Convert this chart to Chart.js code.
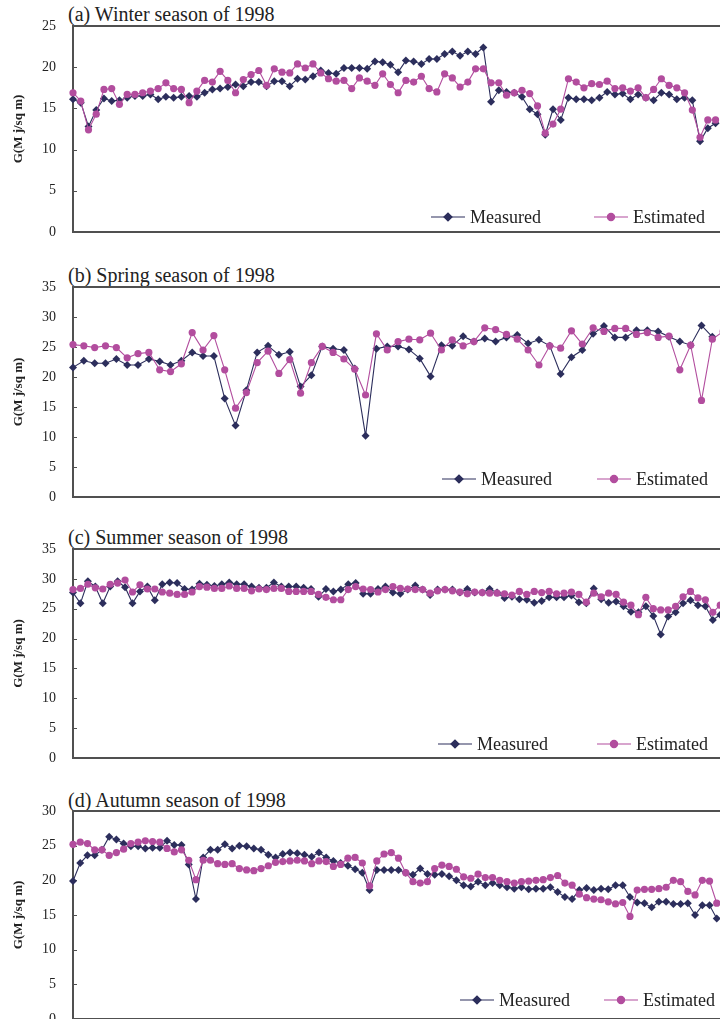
<!DOCTYPE html>
<html>
<head>
<meta charset="utf-8">
<script src="https://cdn.jsdelivr.net/npm/chart.js@4/dist/chart.umd.min.js"></script>
<style>
html,body{margin:0;padding:0;width:720px;height:1019px;overflow:hidden;background:#fff;}
.panel{position:absolute;left:0;}
.title{position:absolute;left:68px;font-family:"Liberation Serif",serif;font-size:20px;line-height:22px;color:#222;white-space:nowrap;}
</style>
</head>
<body>
<script>
// ---------- DATA ----------
const seriesNames = ["Measured", "Estimated"];

// Winter season of 1998 (daily G, MJ/sq m)
const winterMeasured = [16.1,15.7,12.8,14.8,16.2,15.9,16.0,16.3,16.5,16.5,16.7,16.1,16.4,16.3,16.4,16.5,16.4,16.9,17.3,17.4,17.6,17.9,17.7,18.2,18.2,17.7,18.3,18.3,
  17.7,18.6,18.5,18.9,19.6,19.3,19.2,19.9,19.9,19.9,19.8,20.7,20.6,20.3,19.4,20.8,20.7,20.4,21.0,21.0,21.6,21.9,21.4,21.9,21.6,22.4,15.8,17.2,17.0,
  16.9,16.4,14.9,14.3,11.8,14.9,13.6,16.3,16.1,16.1,16.0,16.3,17.0,16.7,16.8,16.1,16.7,16.3,16.0,16.9,16.7,16.1,16.3,16.0,11.0,12.6,13.2];
const winterEstimated = [16.9,15.9,12.4,14.3,17.3,17.4,15.5,16.7,16.7,16.9,17.1,17.4,18.1,17.4,17.3,15.7,17.1,18.4,18.2,19.5,18.4,16.9,18.5,19.1,19.6,17.8,19.8,19.4,
  19.3,20.4,19.9,20.4,19.3,18.6,18.3,18.4,17.4,18.7,18.3,17.8,19.2,17.9,16.9,18.4,18.2,18.9,17.4,17.0,19.2,18.7,17.6,18.2,19.8,19.8,18.1,18.1,16.6,
  16.9,17.2,16.8,15.3,12.0,13.1,14.9,18.6,18.2,17.5,18.0,17.9,18.3,17.4,17.5,17.1,17.5,16.3,17.3,18.6,17.8,17.5,16.9,14.8,11.5,13.6,13.6];

// Spring season of 1998
const springMeasured = [21.6,22.7,22.3,22.3,23.0,22.0,22.0,23.0,22.6,22.0,22.7,24.1,23.5,23.5,16.4,11.9,17.8,24.1,25.2,23.7,24.2,
  18.4,20.3,25.1,24.7,24.5,21.4,10.2,24.7,25.1,25.1,24.6,23.1,20.1,25.3,25.2,26.8,25.9,26.4,25.9,26.6,
  27.0,25.6,26.2,25.2,20.5,23.3,24.5,27.2,28.5,26.6,26.6,27.8,27.8,27.6,26.7,25.9,25.3,28.6,26.7];
const springEstimated = [25.4,25.2,24.9,25.2,24.9,23.2,23.9,24.1,21.2,20.9,22.2,27.4,24.5,26.9,21.2,14.8,17.4,22.4,24.3,20.6,22.9,
  17.3,22.4,25.1,24.1,23.0,21.3,17.0,27.2,24.5,25.9,26.3,26.2,27.3,24.5,26.2,25.2,25.9,28.2,27.9,27.1,
  26.3,24.5,22.0,25.2,24.8,27.7,25.5,28.2,27.6,28.1,28.1,27.1,27.4,26.6,26.8,21.2,25.3,16.1,26.3,27.6];

// Summer season of 1998
const summerMeasured = [27.7,25.9,29.6,28.7,25.9,28.7,29.6,28.6,25.9,27.9,28.7,26.4,29.1,29.4,29.3,28.3,28.2,29.2,29.0,28.8,29.1,29.4,29.1,29.1,28.7,28.5,28.5,29.4,28.7,28.7,
  28.7,28.5,28.3,27.0,28.3,27.9,28.2,29.1,29.3,27.5,27.5,28.3,28.7,27.7,27.5,28.2,28.9,28.2,27.3,28.2,28.2,28.2,27.7,28.3,27.7,27.7,28.3,27.7,26.8,27.0,
  26.6,26.5,26.0,26.3,26.9,26.9,26.9,27.2,26.1,25.9,28.4,26.6,26.0,26.2,25.4,24.5,24.4,25.4,23.8,20.7,23.7,24.4,25.9,26.4,25.6,25.4,23.1,24.0];
const summerEstimated = [28.2,28.4,29.1,28.5,28.3,29.1,29.3,29.8,27.8,29.0,28.3,28.3,27.8,27.6,27.4,27.4,27.8,28.7,28.6,28.4,28.4,28.8,28.4,28.4,28.0,28.3,28.2,28.4,28.4,27.9,
  27.9,27.9,27.9,27.4,26.9,26.5,26.5,28.2,28.7,28.3,28.2,27.8,28.2,28.7,28.4,28.3,28.2,28.2,27.6,28.0,28.2,28.0,27.8,27.5,27.8,27.7,27.6,27.6,27.5,27.3,
  27.9,27.4,27.9,27.7,27.9,27.5,27.6,27.8,27.4,26.1,27.6,27.0,27.6,27.4,26.1,25.6,24.0,26.9,25.0,24.8,24.8,25.4,27.0,27.9,26.8,26.5,24.4,25.6];

// Autumn season of 1998
const autumnMeasured = [19.9,22.5,23.6,23.6,24.4,26.3,25.9,25.3,24.9,24.9,24.6,24.7,24.7,25.7,25.1,25.1,22.3,17.3,23.3,24.4,24.4,25.2,24.6,25.0,24.9,24.6,24.4,23.7,23.3,23.8,
  24.0,23.9,23.7,23.4,24.0,23.3,22.8,22.5,22.1,21.6,21.1,18.6,21.5,21.5,21.5,21.5,21.1,20.8,21.7,20.9,20.8,20.9,20.6,20.0,19.3,19.1,19.8,19.3,19.6,19.3,19.0,
  18.8,19.0,18.7,18.8,18.8,19.0,18.3,17.6,17.3,18.6,18.9,18.6,18.8,18.7,19.3,19.3,17.6,16.8,16.7,16.1,16.9,16.9,16.6,16.6,16.7,15.0,16.4,16.4,14.5];
const autumnEstimated = [25.2,25.5,25.3,24.4,24.4,23.6,24.0,24.5,25.3,25.5,25.7,25.6,25.5,24.6,24.1,24.4,22.9,20.1,22.9,22.9,22.4,22.3,22.4,21.7,21.5,21.4,21.7,22.1,22.6,22.7,
  22.8,22.9,22.8,22.4,22.8,22.7,22.0,22.3,23.2,23.3,22.5,19.2,22.8,23.8,24.0,23.2,21.1,19.8,19.6,19.8,21.7,22.2,22.0,21.6,20.5,20.3,20.9,20.4,20.4,20.0,19.8,
  19.6,19.8,19.9,20.0,20.1,20.4,20.7,19.6,19.3,18.0,17.5,17.3,17.2,16.9,16.6,16.8,14.8,18.6,18.7,18.7,18.8,19.0,20.0,19.8,18.4,17.9,20.0,19.9,16.7];

// Day counts per season (x categories) and y-axis tick limits
const winterDaysCount = 90, springDaysCount = 62, summerDaysCount = 92, autumnDaysCount = 91;
const winterYMax = 25, springYMax = 35, summerYMax = 35, autumnYMax = 30;
const yStep = 5;

const panelTitles = ["(a) Winter season of 1998","(b) Spring season of 1998","(c) Summer season of 1998","(d) Autumn season of 1998"];
const yAxisTitle = "G(M j/sq m)";

// ---------- STYLE / LAYOUT ----------
const measuredColor = "#2c2e5c";
const estimatedColor = "#b24d9e";
const FONT = '"Liberation Serif", "Times New Roman", serif';

const frameAndTicks = {
  id: 'frameAndTicks',
  beforeDatasetsDraw(chart) {
    const {ctx, chartArea: a, scales: {y}} = chart;
    ctx.save();
    ctx.strokeStyle = '#505050';
    ctx.lineWidth = 2;
    ctx.strokeRect(a.left, a.top, a.right - a.left, a.bottom - a.top);
    ctx.lineWidth = 1;
    y.ticks.forEach(t => {
      const py = Math.round(y.getPixelForValue(t.value)) + 0.5;
      ctx.beginPath(); ctx.moveTo(a.left, py); ctx.lineTo(a.left + 4, py); ctx.stroke();
    });
    ctx.restore();
  }
};

const insideLegend = {
  id: 'insideLegend',
  afterDatasetsDraw(chart, args, opts) {
    const ctx = chart.ctx;
    ctx.save();
    ctx.font = '18px ' + FONT;
    ctx.textBaseline = 'middle';
    ctx.textAlign = 'left';
    chart.data.datasets.forEach((ds, i) => {
      const x0 = opts.xs[i], y = opts.y;
      ctx.strokeStyle = ds.borderColor;
      ctx.fillStyle = ds.backgroundColor;
      ctx.lineWidth = 1.2;
      ctx.beginPath(); ctx.moveTo(x0, y); ctx.lineTo(x0 + 34, y); ctx.stroke();
      Chart.helpers.drawPoint(ctx, {pointStyle: ds.pointStyle, radius: ds.pointRadius, borderWidth: 1, rotation: 0}, x0 + 17, y);
      ctx.fillStyle = '#222';
      ctx.fillText(ds.label, x0 + 39, y + 1);
    });
    ctx.restore();
  }
};

const panels = [
  {title: panelTitles[0], top: 26, bottom: 232, right: 762, n: winterDaysCount, ymax: winterYMax, m: winterMeasured, e: winterEstimated, titleY: 14, legend: {xs: [431, 594], y: 217}},
  {title: panelTitles[1], top: 287, bottom: 497, right: 734, n: springDaysCount, ymax: springYMax, m: springMeasured, e: springEstimated, titleY: 275, legend: {xs: [442, 597], y: 479}},
  {title: panelTitles[2], top: 549, bottom: 758, right: 750, n: summerDaysCount, ymax: summerYMax, m: summerMeasured, e: summerEstimated, titleY: 537, legend: {xs: [438, 597], y: 744}},
  {title: panelTitles[3], top: 811, bottom: 1019, right: 724, n: autumnDaysCount, ymax: autumnYMax, m: autumnMeasured, e: autumnEstimated, titleY: 800, legend: {xs: [460, 604], y: 1000}}
];

const PLOT_LEFT = 73, PAD_TOP = 12, PAD_BOTTOM = 14;

panels.forEach(p => {
  const t = document.createElement('div');
  t.className = 'title';
  t.style.top = (p.titleY - 11) + 'px';
  t.textContent = p.title;
  document.body.appendChild(t);

  const width = p.right + 12;
  const height = (p.bottom - p.top) + PAD_TOP + PAD_BOTTOM;
  const boxTop = p.top - PAD_TOP;
  const div = document.createElement('div');
  div.className = 'panel';
  div.style.top = boxTop + 'px';
  div.style.width = width + 'px';
  div.style.height = height + 'px';
  const cv = document.createElement('canvas');
  div.appendChild(cv);
  document.body.appendChild(div);

  const labels = [];
  for (let d = 1; d <= p.n; d++) labels.push(String(d));

  new Chart(cv, {
    type: 'line',
    data: {
      labels: labels,
      datasets: [
        {label: seriesNames[0], data: p.m, borderColor: measuredColor, backgroundColor: measuredColor,
         pointStyle: 'rectRot', pointRadius: 4, pointBorderWidth: 0, borderWidth: 1.1, tension: 0, order: 1},
        {label: seriesNames[1], data: p.e, borderColor: estimatedColor, backgroundColor: estimatedColor,
         pointStyle: 'circle', pointRadius: 3.6, pointBorderWidth: 0, borderWidth: 1.1, tension: 0, order: 0}
      ]
    },
    options: {
      responsive: true,
      maintainAspectRatio: false,
      animation: false,
      devicePixelRatio: 1,
      layout: {padding: {top: PAD_TOP, bottom: PAD_BOTTOM, left: 0, right: width - p.right}},
      plugins: {
        legend: {display: false},
        tooltip: {enabled: false},
        insideLegend: {xs: p.legend.xs, y: p.legend.y - boxTop}
      },
      scales: {
        x: {display: false, offset: false},
        y: {
          min: 0, max: p.ymax,
          ticks: {stepSize: yStep, padding: 2, color: '#222', font: {family: FONT, size: 14}},
          grid: {display: true, drawOnChartArea: false, drawTicks: true, tickLength: 15, color: 'rgba(0,0,0,0)'},
          border: {display: false},
          title: {display: true, text: yAxisTitle, color: '#222', font: {family: FONT, size: 13, weight: 'bold'}, padding: {top: 11, bottom: 0}},
          afterFit(scale) { scale.width = PLOT_LEFT; }
        }
      }
    },
    plugins: [frameAndTicks, insideLegend]
  });
});
</script>
</body>
</html>
